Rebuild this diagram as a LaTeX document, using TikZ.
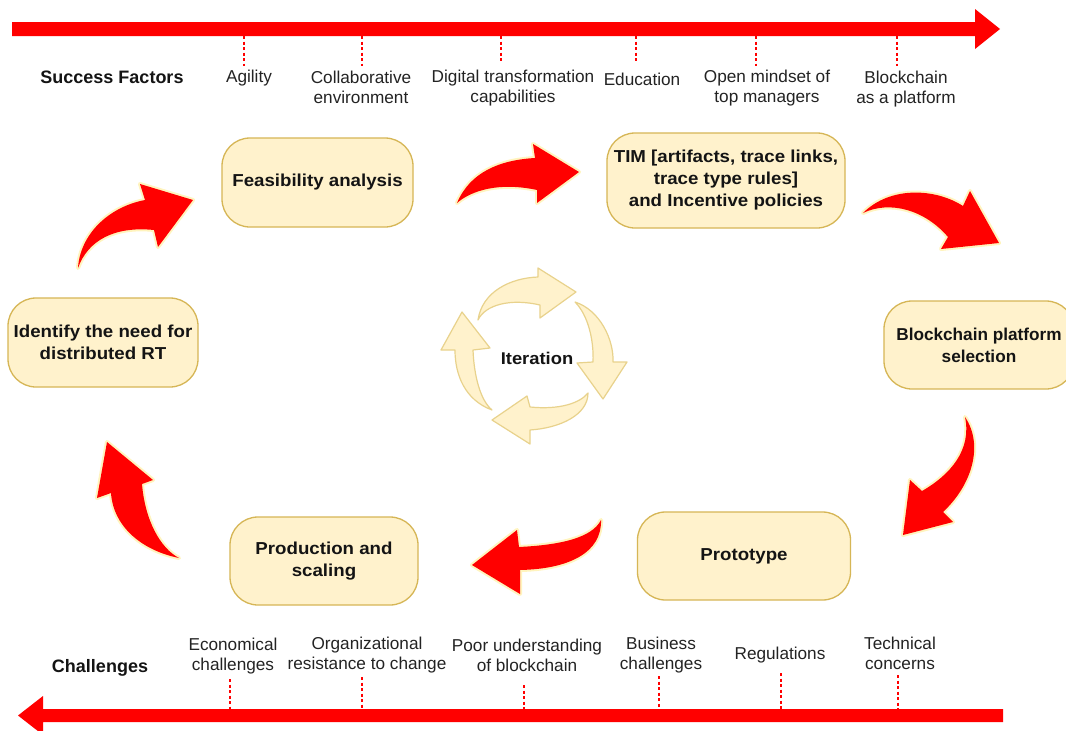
\documentclass[tikz,border=0pt]{standalone}
\usepackage{fontspec}
\setmainfont{Liberation Sans}
\newfontfamily\boxfont[FakeStretch=1.08]{Liberation Sans}
\definecolor{boxbg}{RGB}{255,242,204}
\definecolor{boxline}{RGB}{214,182,86}
\definecolor{txtdark}{RGB}{20,20,20}
\definecolor{txtgray}{RGB}{35,35,35}
\definecolor{glow}{RGB}{255,244,190}
\definecolor{iterline}{RGB}{232,210,140}
\begin{document}
\begin{tikzpicture}[x=1pt,y=-1pt,
  boxfill/.style={fill=boxbg, draw=boxline, line width=1.3pt,
    rounded corners=28pt, align=center, text=txtdark,
    font=\boxfont\fontsize{17.3}{22}\selectfont\bfseries, inner sep=0pt},
  lbl/.style={align=center, text=txtgray, font=\fontsize{17.2}{20}\selectfont, inner sep=0pt},
  headlbl/.style={text=txtdark, font=\fontsize{18}{21}\selectfont\bfseries, inner sep=0pt},
  tick/.style={draw=red, line width=1.1pt, dash pattern=on 3pt off 2.5pt},
  bigred/.style={fill=red},
  redarrow/.style={fill=red, preaction={draw=glow, line width=4pt, line join=round}},
  iterarrow/.style={fill=boxbg, draw=iterline, line width=1.2pt, line join=round}
]
\useasboundingbox[fill=white] (0,0) rectangle (1066,731);

% timeline arrows
\fill[bigred] (12,22) -- (975,22) -- (975,9) -- (1000,29) -- (975,49) -- (975,36) -- (12,36) -- cycle;
\fill[bigred] (1003,709) -- (43,709) -- (43,696) -- (18,715.5) -- (43,735) -- (43,722) -- (1003,722) -- cycle;

% top ticks and labels
\coordinate (t1) at (244,36); \coordinate (t1e) at (244,66);
\coordinate (t2) at (362,36); \coordinate (t2e) at (362,66);
\coordinate (t3) at (501,36); \coordinate (t3e) at (501,63);
\coordinate (t4) at (636,36); \coordinate (t4e) at (636,63);
\coordinate (t5) at (756,36); \coordinate (t5e) at (756,66);
\coordinate (t6) at (897,36); \coordinate (t6e) at (897,66);
\foreach \i in {1,...,6} {\draw[tick] (t\i) -- (t\i e);}

\node[headlbl] (sf) at (112,77) {Success Factors};
\node[lbl] (l1) at (249,78) {Agility};
\node[lbl] (l2) at (361,87) {Collaborative\\environment};
\node[lbl] (l3) at (513,88) {Digital transformation\\capabilities};
\node[lbl] (l4) at (642,79) {Education};
\node[lbl] (l5) at (767,88) {Open mindset of\\top managers};
\node[lbl] (l6) at (906,89) {Blockchain\\as a platform};

% bottom ticks and labels
\coordinate (b1) at (230,679); \coordinate (b1e) at (230,709);
\coordinate (b2) at (362,677); \coordinate (b2e) at (362,709);
\coordinate (b3) at (524,685); \coordinate (b3e) at (524,709);
\coordinate (b4) at (659,676); \coordinate (b4e) at (659,709);
\coordinate (b5) at (781,673); \coordinate (b5e) at (781,709);
\coordinate (b6) at (898,675); \coordinate (b6e) at (898,709);
\foreach \i in {1,...,6} {\draw[tick] (b\i) -- (b\i e);}

\node[headlbl] (ch) at (100,668) {Challenges};
\node[lbl] (c1) at (233,656) {Economical\\challenges};
\node[lbl] (c2) at (367,655) {Organizational\\resistance to change};
\node[lbl] (c3) at (527,655) {Poor understanding\\of blockchain};
\node[lbl] (c4) at (661,655) {Business\\challenges};
\node[lbl] (c5) at (780,655) {Regulations};
\node[lbl] (c6) at (900,653) {Technical\\concerns};

% process boxes
\node[boxfill, minimum width=191pt, minimum height=89pt] (feas) at (317.5,182.5) {Feasibility analysis};
\node[boxfill, minimum width=238pt, minimum height=95pt] (tim) at (726,180.5) {TIM [artifacts, trace links,\\trace type rules]\\and Incentive policies};
\node[boxfill, minimum width=190pt, minimum height=89pt] (ident) at (103,342.5) {Identify the need for\\distributed RT};
\node[boxfill, minimum width=190pt, minimum height=88pt, font=\fontsize{17.2}{22}\selectfont\bfseries] (bcp) at (979,345) {Blockchain platform\\selection};
\node[boxfill, minimum width=213pt, minimum height=88pt] (proto) at (744,556) {Prototype};
\node[boxfill, minimum width=188pt, minimum height=88pt] (prod) at (324,561) {Production and\\scaling};

% red curved arrows
% Identify -> Feasibility
\fill[redarrow] (78,268) .. controls (80,235) and (108,207) .. (145,200) -- (140,184) -- (193,200) -- (158,247)
  -- (154,230) .. controls (115,226) and (88,240) .. (78,268) -- cycle;
% Feasibility -> TIM
\fill[redarrow] (457,203) .. controls (470,172) and (500,160) .. (535,158) -- (533,144) -- (579,172) -- (537,203)
  -- (537,190) .. controls (500,182) and (472,190) .. (457,203) -- cycle;
% TIM -> Blockchain
\fill[redarrow] (863,213) .. controls (890,186) and (935,188) .. (963,206) -- (970,191) -- (999,243) -- (941,249)
  -- (948,237) .. controls (925,210) and (890,200) .. (863,213) -- cycle;
% Blockchain -> Prototype
\fill[redarrow] (965,417) .. controls (984,445) and (972,485) .. (943,512) -- (953,522) -- (903,535) -- (910,480)
  -- (922,491) .. controls (950,475) and (972,450) .. (965,417) -- cycle;
% Prototype -> Production
\fill[redarrow] (601,520) .. controls (602,552) and (570,569) .. (520,570) -- (520,594) -- (472,565) -- (517,530)
  -- (519,547) .. controls (560,545) and (592,538) .. (601,520) -- cycle;
% Production -> Identify
\fill[redarrow] (179,558) .. controls (140,550) and (113,525) .. (111,493) -- (97,498) -- (107,442) -- (153,480)
  -- (142,484) .. controls (145,520) and (160,548) .. (179,558) -- cycle;

% iteration cycle
\filldraw[iterarrow] (478,320) .. controls (482,292) and (510,278) .. (538,277) -- (538,268) -- (576,292) -- (540,318)
  -- (540,305) .. controls (510,298) and (485,305) .. (478,320) -- cycle;
\filldraw[iterarrow] (575,302) .. controls (600,310) and (614,340) .. (613,362) -- (627,362) -- (603,399) -- (577,363)
  -- (593,362) .. controls (594,340) and (588,315) .. (575,302) -- cycle;
\filldraw[iterarrow] (588,393) .. controls (588,415) and (560,428) .. (530,430) -- (530,444) -- (492,420) -- (527,396)
  -- (530,407) .. controls (560,410) and (580,403) .. (588,393) -- cycle;
\filldraw[iterarrow] (492,410) .. controls (465,400) and (455,375) .. (455,350) -- (441,350) -- (462,312) -- (490,348)
  -- (473,350) .. controls (474,375) and (480,400) .. (492,410) -- cycle;
\node[headlbl, font=\boxfont\fontsize{17}{21}\selectfont\bfseries] (iter) at (537,358) {Iteration};
\end{tikzpicture}
\end{document}
